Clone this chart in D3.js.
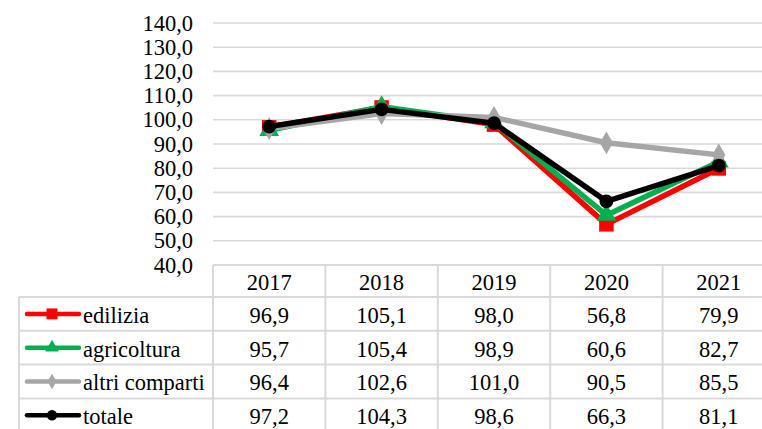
<html>
<head>
<script src="https://cdnjs.cloudflare.com/ajax/libs/d3/7.8.5/d3.min.js"></script>
</head>
<body style="margin:0; background:#fff">
<div id="chart"></div>
<script>
    const years = ["2017", "2018", "2019", "2020", "2021"];
    const seriesNames = ["edilizia", "agricoltura", "altri comparti", "totale"];
    const edilizia = [96.9, 105.1, 98.0, 56.8, 79.9];
    const agricoltura = [95.7, 105.4, 98.9, 60.6, 82.7];
    const altriComparti = [96.4, 102.6, 101.0, 90.5, 85.5];
    const totale = [97.2, 104.3, 98.6, 66.3, 81.1];
    const yTicks = [40, 50, 60, 70, 80, 90, 100, 110, 120, 130, 140];

    const series = [
        {name: seriesNames[0], values: edilizia, color: "#ff0000", symbol: d3.symbolSquare, size: 210, keySize: 120},
        {name: seriesNames[1], values: agricoltura, color: "#00b050", symbol: d3.symbolTriangle, size: 170, keySize: 80},
        {name: seriesNames[2], values: altriComparti, color: "#a6a6a6", symbol: d3.symbolDiamond, size: 150, keySize: 70},
        {name: seriesNames[3], values: totale, color: "#000000", symbol: d3.symbolCircle, size: 150, keySize: 85}
    ];

    const W = 762, H = 429;
    const plotLeft = 213, plotRight = 775;
    const tableTop = 265, headerH = 32, rowH = 33.8, labelLeft = 19;
    const FONT = "Liberation Serif", FS = 22.5;
    const fmt = v => d3.format(".1f")(v).replace(".", ",");
    const grid = "#d9d9d9";

    const svg = d3.select("#chart").append("svg")
        .attr("width", W)
        .attr("height", H);

    const x = d3.scaleBand().domain(years).range([plotLeft, plotRight]);
    const y = d3.scaleLinear().domain([40, 140]).range([tableTop, 23]);

    // gridlines
    svg.append("g").selectAll("line")
        .data(yTicks.slice(1))
        .join("line")
        .attr("x1", plotLeft)
        .attr("x2", W)
        .attr("y1", d => y(d))
        .attr("y2", d => y(d))
        .attr("stroke", grid)
        .attr("stroke-width", 1.6);

    // y tick labels
    svg.append("g").selectAll("text")
        .data(yTicks)
        .join("text")
        .attr("x", plotLeft - 20)
        .attr("y", d => y(d))
        .attr("dy", "0.34em")
        .attr("text-anchor", "end")
        .text(d => fmt(d));

    // data table
    const table = svg.append("g");
    const rowsBottom = tableTop + headerH + rowH * seriesNames.length;
    const hLines = [tableTop].concat(d3.range(seriesNames.length + 1).map(i => tableTop + headerH + i * rowH));
    table.selectAll("line.h")
        .data(hLines)
        .join("line")
        .attr("x1", (d, i) => i === 0 ? plotLeft : labelLeft)
        .attr("x2", plotRight)
        .attr("y1", d => d)
        .attr("y2", d => d)
        .attr("stroke", grid)
        .attr("stroke-width", 2);
    const vLines = [labelLeft].concat(years.map(d => x(d)), [plotRight]);
    table.selectAll("line.v")
        .data(vLines)
        .join("line")
        .attr("x1", d => d)
        .attr("x2", d => d)
        .attr("y1", (d, i) => i === 0 ? tableTop + headerH : tableTop)
        .attr("y2", rowsBottom)
        .attr("stroke", grid)
        .attr("stroke-width", 2);

    table.selectAll("text.year")
        .data(years)
        .join("text")
        .attr("x", d => x(d) + x.bandwidth() / 2)
        .attr("y", tableTop + headerH / 2 + 1)
        .attr("dy", "0.35em")
        .attr("text-anchor", "middle")
        .text(d => d);

    const rows = table.selectAll("g.row")
        .data(series)
        .join("g")
        .attr("transform", (d, i) => `translate(0,${tableTop + headerH + i * rowH + rowH / 2 + 1})`);

    rows.selectAll("text.val")
        .data(d => d.values)
        .join("text")
        .attr("x", (d, i) => x(years[i]) + x.bandwidth() / 2)
        .attr("dy", "0.35em")
        .attr("text-anchor", "middle")
        .text(d => fmt(d));

    rows.append("text")
        .attr("x", 83)
        .attr("dy", "0.35em")
        .text(d => d.name);

    rows.append("line")
        .attr("x1", 27)
        .attr("x2", 79)
        .attr("y1", -1)
        .attr("y2", -1)
        .attr("stroke", d => d.color)
        .attr("stroke-width", 4.5)
        .attr("stroke-linecap", "round");

    rows.append("path")
        .attr("transform", "translate(52,-1)")
        .attr("d", d => d3.symbol().type(d.symbol).size(d.keySize)())
        .attr("fill", d => d.color);

    svg.selectAll("text")
        .attr("font-family", FONT)
        .attr("font-size", FS)
        .attr("fill", "#000");

    // lines and markers
    const line = d3.line()
        .x((d, i) => x(years[i]) + x.bandwidth() / 2)
        .y(d => y(d));

    const sg = svg.append("g").selectAll("g")
        .data(series)
        .join("g");

    sg.append("path")
        .attr("d", d => line(d.values))
        .attr("fill", "none")
        .attr("stroke", d => d.color)
        .attr("stroke-width", 5.5)
        .attr("stroke-linejoin", "round");

    sg.each(function(s) {
        d3.select(this).selectAll("path.m")
            .data(s.values)
            .join("path")
            .attr("transform", (d, i) => `translate(${x(years[i]) + x.bandwidth() / 2},${y(d)})`)
            .attr("d", d3.symbol().type(s.symbol).size(s.size)())
            .attr("fill", s.color);
    });
</script>
</body>
</html>
